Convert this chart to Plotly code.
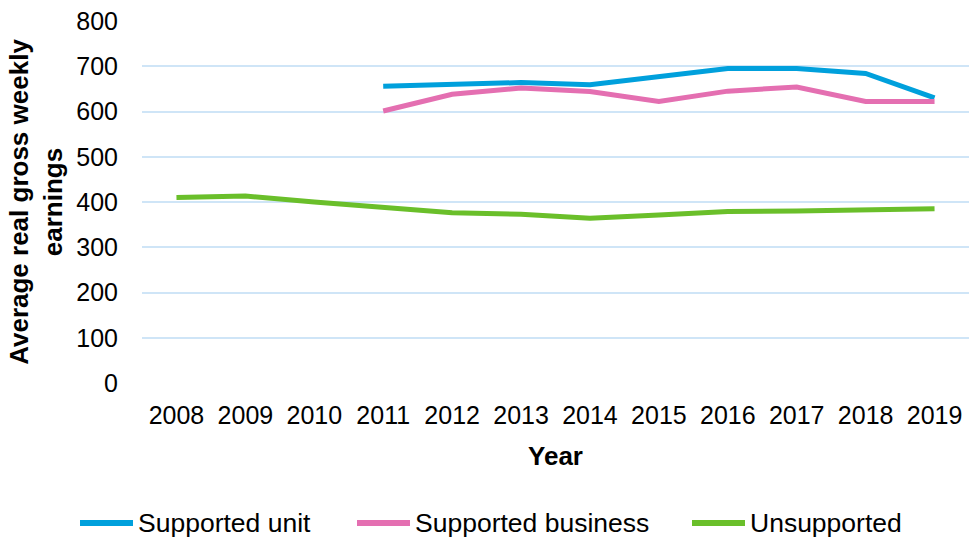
import plotly.graph_objects as go

years = ["2008", "2009", "2010", "2011", "2012", "2013", "2014", "2015", "2016", "2017", "2018", "2019"]
supported_unit = [None, None, None, 656, 661, 664, 659, 676, 695, 695, 684, 630]
supported_business = [None, None, None, 601, 638, 652, 644, 622, 645, 654, 622, 622]
unsupported = [410, 413, 400, 388, 376, 373, 364, 371, 379, 380, 382, 385]

series_names = ["Supported unit", "Supported business", "Unsupported"]
series_values = [supported_unit, supported_business, unsupported]
series_colors = ["#00a0dc", "#e46fb1", "#6abf2a"]

font_family = "Liberation Sans, Arial, sans-serif"

# Figure geometry (pixels) used to place the hand-drawn legend
W, H = 969, 543
M_L, M_R, M_T, M_B = 142, 0, 21, 160
plot_w = W - M_L - M_R
plot_h = H - M_T - M_B


def px_x(x):
    return (x - M_L) / plot_w


def px_y(y):
    return (H - M_B - y) / plot_h


fig = go.Figure()
for name, values, color in zip(series_names, series_values, series_colors):
    fig.add_trace(go.Scatter(
        x=years, y=values, name=name, mode="lines",
        line=dict(color=color, width=5),
        connectgaps=False, showlegend=False,
    ))

# Legend: a wide line swatch followed by the series name
legend_y = 523
legend_starts = [80, 357, 692]
swatch_len = 53
for name, color, x0 in zip(series_names, series_colors, legend_starts):
    fig.add_shape(
        type="line", xref="paper", yref="paper",
        x0=px_x(x0), x1=px_x(x0 + swatch_len),
        y0=px_y(legend_y), y1=px_y(legend_y),
        line=dict(color=color, width=6),
    )
    fig.add_annotation(
        xref="paper", yref="paper",
        x=px_x(x0 + swatch_len + 3), y=px_y(legend_y),
        xanchor="left", yanchor="middle", showarrow=False,
        text=name, font=dict(size=26.5, color="#000000"),
    )

fig.update_layout(
    width=W, height=H,
    margin=dict(l=M_L, r=M_R, t=M_T, b=M_B),
    plot_bgcolor="white", paper_bgcolor="white",
    font=dict(family=font_family, size=25, color="#000000"),
    showlegend=False,
    xaxis=dict(
        type="category", range=[-0.5, 11.5], automargin=False,
        showgrid=False, zeroline=False, showline=False,
        ticks="outside", ticklen=10, tickcolor="rgba(0,0,0,0)",
        tickfont=dict(size=25),
        title=dict(text="<b>Year</b>", font=dict(size=26), standoff=18),
    ),
    yaxis=dict(
        range=[0, 800], dtick=100, automargin=False,
        showgrid=True, gridcolor="#cfe5f7", gridwidth=2,
        zeroline=False, showline=False,
        ticks="outside", ticklen=18, tickcolor="rgba(0,0,0,0)",
        tickfont=dict(size=25),
        title=dict(text="<b>Average real gross weekly<br>earnings</b>", font=dict(size=26), standoff=6),
    ),
)

fig.write_html("out.html")
